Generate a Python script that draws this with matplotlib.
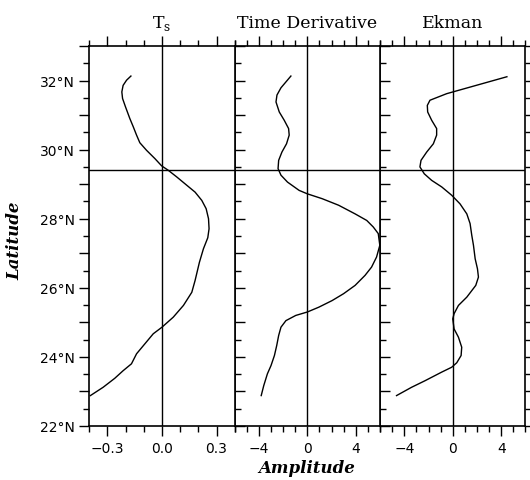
import matplotlib
matplotlib.use("Agg")
import matplotlib.pyplot as plt
from matplotlib.ticker import MultipleLocator, FuncFormatter

# ---- data ----
ts_lat = [32.13, 32.01, 31.86, 31.67, 31.48, 31.24, 30.90, 30.66, 30.42, 30.20, 29.98,
          29.74, 29.53, 29.40, 29.21, 28.97, 28.77, 28.53, 28.29, 28.00, 27.71, 27.45,
          27.13, 26.74, 26.21, 25.87, 25.49, 25.15, 24.86, 24.67, 24.38, 24.09, 23.80,
          23.60, 23.38, 23.12, 22.88]
ts_amp = [-0.171, -0.195, -0.214, -0.221, -0.217, -0.201, -0.177, -0.158, -0.140,
          -0.122, -0.085, -0.039, -0.002, 0.035, 0.081, 0.136, 0.182, 0.219, 0.243,
          0.256, 0.259, 0.252, 0.228, 0.206, 0.182, 0.164, 0.118, 0.062, 0.0, -0.048,
          -0.094, -0.140, -0.168, -0.214, -0.260, -0.324, -0.394]

td_lat = [32.13, 31.96, 31.79, 31.58, 31.38, 31.09, 30.85, 30.61, 30.42, 30.17, 29.93,
          29.69, 29.45, 29.26, 29.06, 28.82, 28.72, 28.58, 28.39, 28.14, 27.95, 27.76,
          27.57, 27.23, 26.89, 26.60, 26.36, 26.07, 25.83, 25.63, 25.44, 25.30, 25.20,
          25.05, 24.86, 24.62, 24.33, 24.04, 23.75, 23.51, 23.17, 22.88]
td_amp = [-1.36, -1.77, -2.18, -2.51, -2.59, -2.32, -1.91, -1.55, -1.50, -1.72, -2.10,
          -2.37, -2.42, -2.18, -1.64, -0.68, 0.0, 1.22, 2.58, 3.94, 4.90, 5.44, 5.85,
          5.98, 5.71, 5.30, 4.76, 3.94, 2.99, 2.04, 0.95, 0.0, -0.96, -1.77, -2.18,
          -2.37, -2.53, -2.72, -3.0, -3.30, -3.60, -3.81]

ek_lat = [32.11, 31.62, 31.43, 31.28, 31.09, 30.85, 30.61, 30.42, 30.17, 29.93, 29.69,
          29.50, 29.30, 29.11, 28.92, 28.68, 28.43, 28.14, 27.86, 27.52, 27.23, 26.84,
          26.55, 26.31, 26.07, 25.73, 25.49, 25.25, 25.10, 24.81, 24.57, 24.28, 24.04,
          23.83, 23.70, 23.56, 23.31, 23.12, 22.88]
ek_amp = [4.47, -0.50, -1.88, -2.10, -2.07, -1.74, -1.33, -1.33, -1.60, -2.15, -2.62,
          -2.71, -2.35, -1.74, -0.91, -0.09, 0.60, 1.16, 1.43, 1.57, 1.71, 1.85, 2.04,
          2.12, 1.90, 1.16, 0.47, 0.11, 0.0, 0.11, 0.47, 0.74, 0.69, 0.33, -0.09,
          -0.91, -2.29, -3.40, -4.64]

titles = ["T$_\\mathregular{s}$", "Time Derivative", "Ekman"]
ref_lat = 29.4
xlims = [(-0.4, 0.4), (-6, 6), (-6, 6)]
xmajor = [0.3, 4, 4]
xminor = [0.1, 1, 1]
ylim = (22, 33)

fig = plt.figure(figsize=(5.30, 4.81), dpi=100)
left, bottom, width, height = 0.1685, 0.1123, 0.2743, 0.790

series = [(ts_amp, ts_lat), (td_amp, td_lat), (ek_amp, ek_lat)]
for i in range(3):
    ax = fig.add_axes([left + i * width, bottom, width, height])
    amp, lat = series[i]
    ax.plot(amp, lat, color="black", lw=1.0)
    ax.axvline(0, color="black", lw=1.0)
    ax.axhline(ref_lat, color="black", lw=1.0)
    ax.set_xlim(*xlims[i])
    ax.set_ylim(*ylim)
    for s in ax.spines.values():
        s.set_linewidth(1.2)
    ax.xaxis.set_major_locator(MultipleLocator(xmajor[i]))
    ax.xaxis.set_minor_locator(MultipleLocator(xminor[i]))
    ax.yaxis.set_major_locator(MultipleLocator(1))
    ax.yaxis.set_minor_locator(MultipleLocator(0.5))
    if i == 0:
        ax.xaxis.set_major_formatter(FuncFormatter(
            lambda v, p: "" if abs(v) > 0.35 else ("%.1f" % v).replace("-", "\u2212") if abs(v) > 1e-9 else "0.0"))
    else:
        ax.xaxis.set_major_formatter(FuncFormatter(
            lambda v, p: "" if abs(v) > 5 else ("%d" % round(v)).replace("-", "\u2212")))
    ax.tick_params(axis="x", which="both", direction="out", top=True, bottom=True,
                   labelsize=10)
    ax.tick_params(axis="x", which="major", length=7, width=1)
    ax.tick_params(axis="x", which="minor", length=4, width=1)
    ax.tick_params(axis="y", which="both", direction="out", right=True,
                   left=(i == 0), labelleft=(i == 0), labelsize=10)
    ax.tick_params(axis="y", which="major", length=7, width=1)
    ax.tick_params(axis="y", which="minor", length=4, width=1)
    ax.yaxis.set_major_formatter(FuncFormatter(
        lambda v, p: "%d\u00b0N" % round(v) if (round(v) % 2 == 0 and v < 32.5) else ""))
    ax.set_title(titles[i], family="DejaVu Serif", fontsize=12.5, pad=14)
    ax.set_zorder(3 - i)

fig.text(0.579, 0.025, "Amplitude", family="DejaVu Serif", style="italic",
         weight="bold", fontsize=12, ha="center", va="center")
fig.text(0.028, 0.5, "Latitude", family="DejaVu Serif", style="italic",
         weight="bold", fontsize=12, ha="center", va="center", rotation=90)

fig.savefig("out.png", dpi=100)
